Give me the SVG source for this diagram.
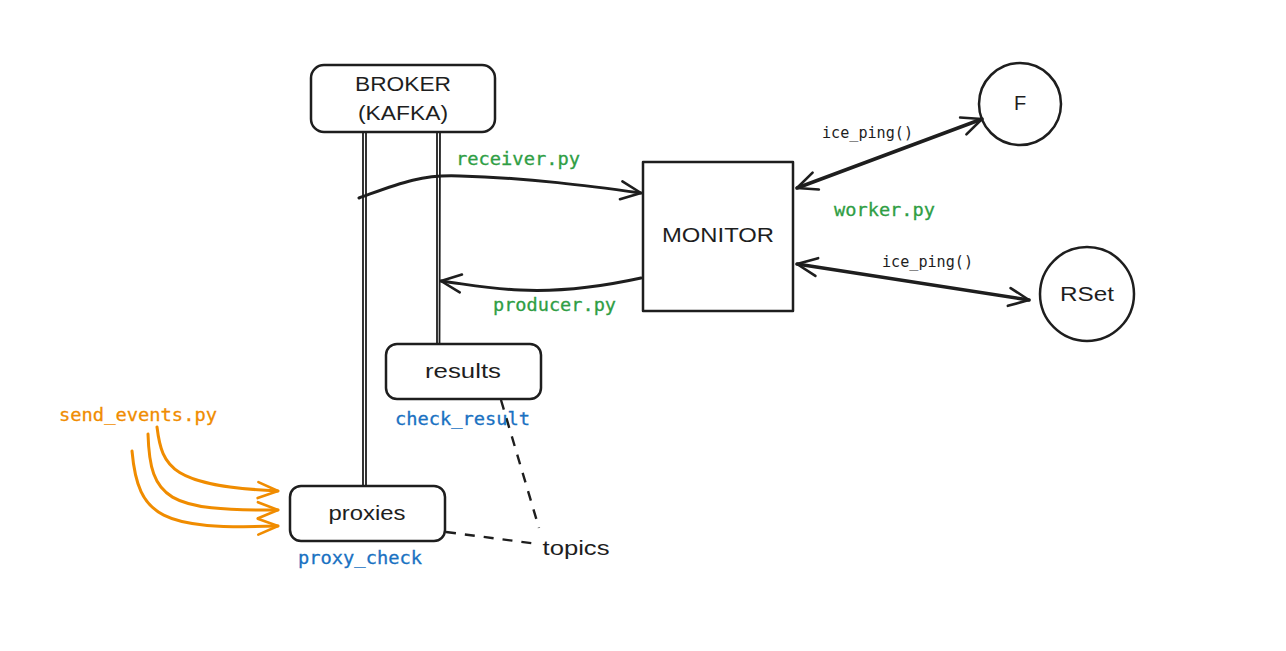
<svg xmlns="http://www.w3.org/2000/svg" width="1286" height="651" viewBox="0 0 1286 651">
  <style>
    .box { fill: none; stroke: #1e1e1e; stroke-width: 2.5; stroke-linejoin: round; }
    .hand { font-family: "Liberation Sans", Lato, sans-serif; font-size: 20px; fill: #1e1e1e; text-anchor: middle; }
    .mono { font-family: "DejaVu Sans Mono", "Liberation Mono", monospace; font-size: 18px; stroke-width: 0.3; }
    .green { fill: #2f9e44; stroke: #2f9e44; }
    .blue { fill: #1971c2; stroke: #1971c2; }
    .orange { fill: #f08c00; stroke: #f08c00; }
    .dark { fill: #1e1e1e; font-size: 15px; stroke: none; }
    .link { fill: none; stroke: #1e1e1e; stroke-width: 3; stroke-linecap: round; }
    .ping { fill: none; stroke: #1e1e1e; stroke-width: 3.6; stroke-linecap: round; }
    .thin { fill: none; stroke: #1e1e1e; stroke-width: 1.8; }
    .dash { fill: none; stroke: #1e1e1e; stroke-width: 2.4; stroke-dasharray: 10 9; }
    .feed { fill: none; stroke: #f08c00; stroke-width: 3; stroke-linecap: round; }
  </style>
  <defs>
    <marker id="head" viewBox="0 0 24 24" refX="22" refY="12" markerWidth="24" markerHeight="24" markerUnits="userSpaceOnUse" orient="auto-start-reverse">
      <path d="M2,3 L22,12 L2,21" fill="none" stroke="#1e1e1e" stroke-width="2.6" stroke-linecap="round" stroke-linejoin="round"/>
    </marker>
    <marker id="headOrange" viewBox="0 0 24 24" refX="22" refY="12" markerWidth="24" markerHeight="24" markerUnits="userSpaceOnUse" orient="auto">
      <path d="M2,4 L22,12 L2,20" fill="none" stroke="#f08c00" stroke-width="2.6" stroke-linecap="round" stroke-linejoin="round"/>
    </marker>
  </defs>

  <rect width="1286" height="651" fill="#ffffff"/>

  <!-- connectors -->
  <g id="connectors">
    <!-- broker rails down to the topics -->
    <path class="thin" d="M363,132 L363,486 M366,132 L366,486"/>
    <path class="thin" d="M437,132 L437,344 M440,132 L439.5,344"/>
    <!-- receiver.py -->
    <path class="link" d="M359,198 C395,185 420,174 460,176 C530,178 590,186 641,193" marker-end="url(#head)"/>
    <!-- producer.py -->
    <path class="link" d="M641,278 C600,287 560,292 520,290 C490,289 465,284 441,281" marker-end="url(#head)"/>
    <!-- worker.py pings -->
    <path class="ping" d="M797,188 L982,119" marker-start="url(#head)" marker-end="url(#head)"/>
    <path class="ping" d="M797,264 L1029,300" marker-start="url(#head)" marker-end="url(#head)"/>
    <!-- topics annotations -->
    <path class="dash" d="M501,400 L539,528"/>
    <path class="dash" d="M446,532 L538,544"/>
    <!-- send_events.py feeds -->
    <path class="feed" d="M157,427 C162,468 172,486 278,491" marker-end="url(#headOrange)"/>
    <path class="feed" d="M148,434 C150,500 168,511 278,510" marker-end="url(#headOrange)"/>
    <path class="feed" d="M132,451 C138,518 162,530 278,526" marker-end="url(#headOrange)"/>
  </g>

  <!-- broker -->
  <g id="broker">
    <rect class="box" x="311" y="65" width="184" height="67" rx="13"/>
    <text class="hand" x="403" y="91" textLength="96" lengthAdjust="spacingAndGlyphs">BROKER</text>
    <text class="hand" x="403" y="120" textLength="90" lengthAdjust="spacingAndGlyphs">(KAFKA)</text>
  </g>

  <!-- monitor -->
  <g id="monitor">
    <rect class="box" x="643" y="162" width="150" height="149"/>
    <text class="hand" x="718" y="242" textLength="112" lengthAdjust="spacingAndGlyphs">MONITOR</text>
  </g>

  <!-- F -->
  <g id="node-f">
    <circle class="box" cx="1020" cy="104" r="41"/>
    <text class="hand" x="1020" y="110">F</text>
  </g>

  <!-- RSet -->
  <g id="node-rset">
    <circle class="box" cx="1087" cy="294" r="47"/>
    <text class="hand" x="1087" y="301" textLength="54" lengthAdjust="spacingAndGlyphs">RSet</text>
  </g>

  <!-- results topic -->
  <g id="results">
    <rect class="box" x="386" y="344" width="155" height="55" rx="11"/>
    <text class="hand" x="463" y="378" textLength="76" lengthAdjust="spacingAndGlyphs">results</text>
  </g>

  <!-- proxies topic -->
  <g id="proxies">
    <rect class="box" x="290" y="486" width="155" height="55" rx="11"/>
    <text class="hand" x="367" y="520" textLength="77" lengthAdjust="spacingAndGlyphs">proxies</text>
  </g>

  <!-- labels -->
  <g id="labels">
    <text class="mono green" x="456" y="165" textLength="124" lengthAdjust="spacingAndGlyphs">receiver.py</text>
    <text class="mono green" x="493" y="311" textLength="123" lengthAdjust="spacingAndGlyphs">producer.py</text>
    <text class="mono green" x="834" y="216" textLength="101" lengthAdjust="spacingAndGlyphs">worker.py</text>
    <text class="mono dark" x="822" y="138" textLength="91" lengthAdjust="spacingAndGlyphs">ice_ping()</text>
    <text class="mono dark" x="882" y="267" textLength="91" lengthAdjust="spacingAndGlyphs">ice_ping()</text>
    <text class="mono blue" x="395" y="425" textLength="135" lengthAdjust="spacingAndGlyphs">check_result</text>
    <text class="mono blue" x="298" y="564" textLength="124" lengthAdjust="spacingAndGlyphs">proxy_check</text>
    <text class="mono orange" x="59" y="421" textLength="158" lengthAdjust="spacingAndGlyphs">send_events.py</text>
    <text class="hand" x="576" y="555" textLength="67" lengthAdjust="spacingAndGlyphs">topics</text>
  </g>
</svg>
